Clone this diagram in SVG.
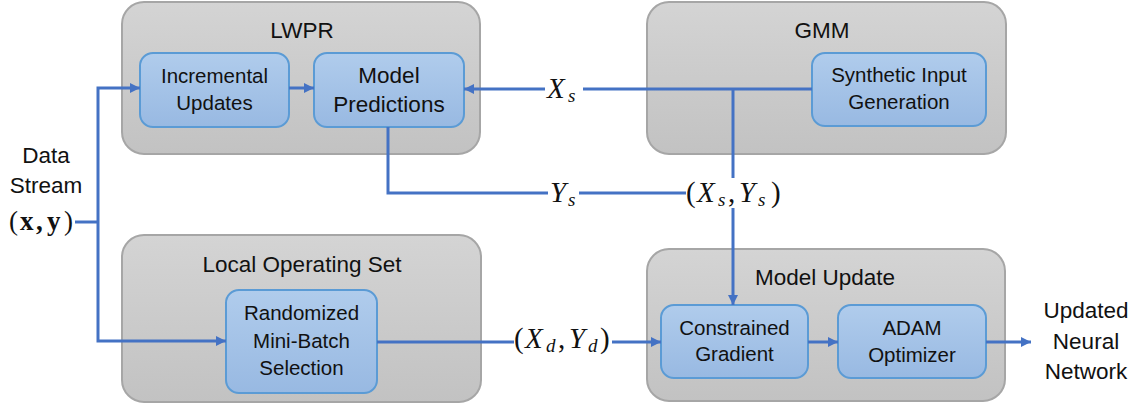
<svg xmlns="http://www.w3.org/2000/svg" width="1143" height="406" viewBox="0 0 1143 406">
  <defs>
    <linearGradient id="outerFill" x1="0" y1="0" x2="0" y2="1">
      <stop offset="0" stop-color="#d4d4d4"/>
      <stop offset="1" stop-color="#c2c2c2"/>
    </linearGradient>
    <linearGradient id="innerFill" x1="0" y1="0" x2="0" y2="1">
      <stop offset="0" stop-color="#b0ccec"/>
      <stop offset="1" stop-color="#98b9e2"/>
    </linearGradient>
    <marker id="arrow" viewBox="0 0 10 10" refX="10" refY="5" markerWidth="10" markerHeight="10" markerUnits="userSpaceOnUse" orient="auto">
      <path d="M0,0 L10,5 L0,10 z" fill="#4472c4"/>
    </marker>
    <style>
      .outer { fill: url(#outerFill); stroke: #a6a6a6; stroke-width: 2; }
      .inner { fill: url(#innerFill); stroke: #5b9bd5; stroke-width: 2; }
      .title { font-family: "Liberation Sans", Arial, sans-serif; font-size: 22.5px; fill: #111; text-anchor: middle; }
      .lbl { font-family: "Liberation Sans", Arial, sans-serif; font-size: 20.5px; fill: #111; text-anchor: middle; }
      .lblBig { font-family: "Liberation Sans", Arial, sans-serif; font-size: 22.5px; fill: #111; text-anchor: middle; }
      .ext { font-family: "Liberation Sans", Arial, sans-serif; font-size: 22.5px; fill: #111; text-anchor: middle; }
      .conn { fill: none; stroke: #4472c4; stroke-width: 3; }
      .math { font-family: "Liberation Serif", "Times New Roman", serif; font-size: 29px; fill: #111; }
      .mi { font-style: italic; }
      .sub { font-family: "Liberation Serif", "Times New Roman", serif; font-style: italic; font-size: 19px; fill: #111; }
      .bold { font-family: "Liberation Serif", "Times New Roman", serif; font-size: 27px; fill: #111; }
    </style>
  </defs>

  <!-- LWPR block -->
  <g id="lwpr">
    <rect class="outer" x="122" y="2" width="358" height="152" rx="22"/>
    <text class="title" x="302" y="38">LWPR</text>
  </g>
  <g id="incremental-updates">
    <rect class="inner" x="140" y="53" width="149" height="74" rx="13"/>
    <text class="lbl" x="214.5" y="83">Incremental</text>
    <text class="lbl" x="214.5" y="110">Updates</text>
  </g>
  <g id="model-predictions">
    <rect class="inner" x="314" y="53" width="150" height="74" rx="13"/>
    <text class="lblBig" x="389" y="83">Model</text>
    <text class="lblBig" x="389" y="112">Predictions</text>
  </g>

  <!-- GMM block -->
  <g id="gmm">
    <rect class="outer" x="647" y="2" width="359" height="152" rx="22"/>
    <text class="title" x="822" y="38">GMM</text>
  </g>
  <g id="synthetic-input">
    <rect class="inner" x="812" y="53" width="174" height="73" rx="13"/>
    <text class="lbl" x="899" y="82">Synthetic Input</text>
    <text class="lbl" x="899" y="109">Generation</text>
  </g>

  <!-- Local Operating Set block -->
  <g id="local-operating-set">
    <rect class="outer" x="122" y="235" width="359" height="167" rx="22"/>
    <text class="title" x="302" y="272">Local Operating Set</text>
  </g>
  <g id="mini-batch">
    <rect class="inner" x="226" y="290" width="151" height="103" rx="13"/>
    <text class="lbl" x="301.5" y="320">Randomized</text>
    <text class="lbl" x="301.5" y="348">Mini-Batch</text>
    <text class="lbl" x="301.5" y="375">Selection</text>
  </g>

  <!-- Model Update block -->
  <g id="model-update">
    <rect class="outer" x="647" y="249" width="358" height="152" rx="22"/>
    <text class="title" x="825" y="285">Model Update</text>
  </g>
  <g id="constrained-gradient">
    <rect class="inner" x="661" y="305" width="147" height="73" rx="13"/>
    <text class="lbl" x="734.5" y="335">Constrained</text>
    <text class="lbl" x="734.5" y="361">Gradient</text>
  </g>
  <g id="adam">
    <rect class="inner" x="838" y="305" width="148" height="73" rx="13"/>
    <text class="lbl" x="912" y="335">ADAM</text>
    <text class="lbl" x="912" y="362">Optimizer</text>
  </g>

  <!-- Input and output labels -->
  <g id="data-stream">
    <text class="ext" x="46" y="163">Data</text>
    <text class="ext" x="46" y="193">Stream</text>
    <text class="bold" y="230"><tspan x="9">(</tspan><tspan x="20" font-weight="bold">x</tspan><tspan x="36" font-weight="bold">,</tspan><tspan x="47" font-weight="bold">y</tspan><tspan x="64">)</tspan></text>
  </g>
  <g id="updated-network">
    <text class="ext" x="1086" y="318">Updated</text>
    <text class="ext" x="1086" y="349">Neural</text>
    <text class="ext" x="1086" y="379">Network</text>
  </g>

  <!-- Connectors -->
  <g id="connectors">
    <path class="conn" d="M75,222 H98"/>
    <path class="conn" d="M98,222 V88 H140" marker-end="url(#arrow)"/>
    <path class="conn" d="M98,222 V341 H226" marker-end="url(#arrow)"/>
    <path class="conn" d="M289,88 H314" marker-end="url(#arrow)"/>
    <path class="conn" d="M812,89 H583"/>
    <path class="conn" d="M545,89 H464" marker-end="url(#arrow)"/>
    <path class="conn" d="M733,89 V178"/>
    <path class="conn" d="M733,208 V305" marker-end="url(#arrow)"/>
    <path class="conn" d="M388,127 V193 H548"/>
    <path class="conn" d="M579,193 H686"/>
    <path class="conn" d="M377,342 H514"/>
    <path class="conn" d="M612,342 H661" marker-end="url(#arrow)"/>
    <path class="conn" d="M808,342 H838" marker-end="url(#arrow)"/>
    <path class="conn" d="M986,342 H1031" marker-end="url(#arrow)"/>
  </g>

  <!-- Signal labels -->
  <g id="signal-labels">
    <text class="math mi" x="547" y="98">X</text>
    <text class="sub" x="568" y="102">s</text>

    <text class="math mi" x="550" y="202">Y</text>
    <text class="sub" x="568" y="206">s</text>

    <text class="math" y="202"><tspan x="686">(</tspan><tspan x="697" font-style="italic">X</tspan><tspan x="728">,</tspan><tspan x="739" font-style="italic">Y</tspan><tspan x="771">)</tspan></text>
    <text class="sub" x="718" y="206">s</text>
    <text class="sub" x="758" y="206">s</text>

    <text class="math" y="348"><tspan x="514">(</tspan><tspan x="525" font-style="italic">X</tspan><tspan x="558">,</tspan><tspan x="569" font-style="italic">Y</tspan><tspan x="600">)</tspan></text>
    <text class="sub" x="546" y="352">d</text>
    <text class="sub" x="588" y="352">d</text>
  </g>
</svg>
